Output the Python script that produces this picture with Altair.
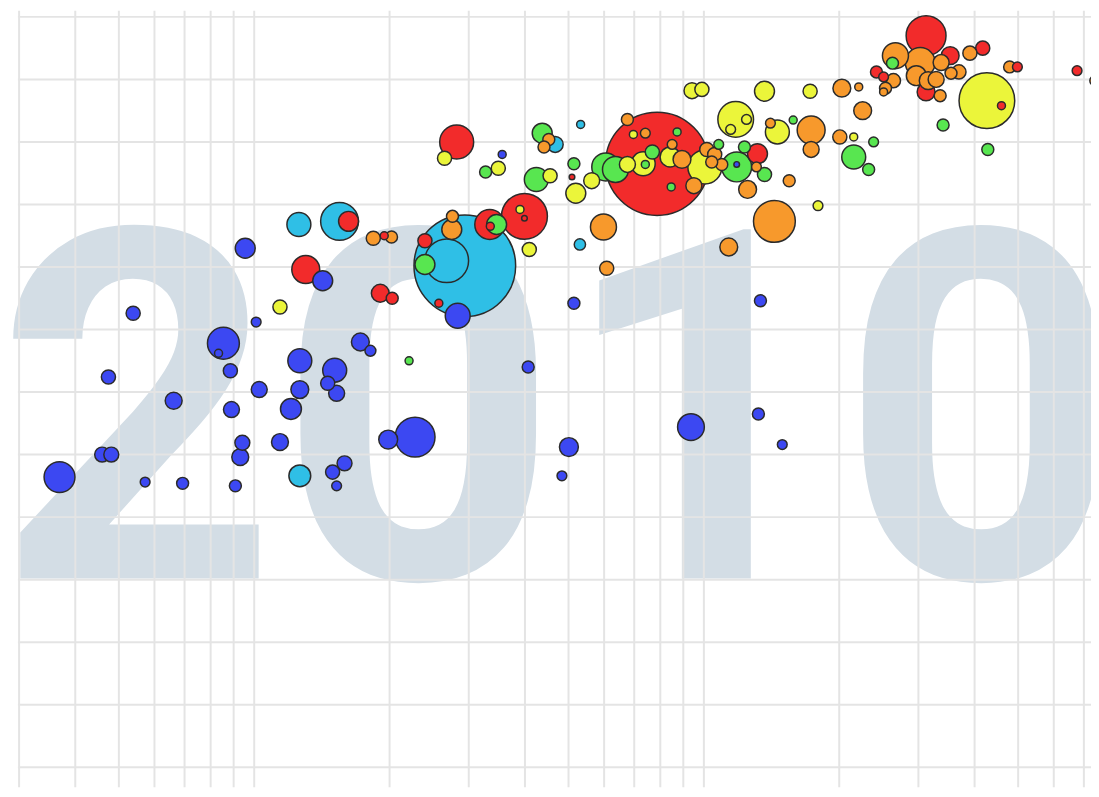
import altair as alt
import pandas as pd

# ---------------- data (GDP per capita, life expectancy, population in millions) ----------------
regions = ["Sub-Saharan Africa", "South Asia", "East Asia & Pacific",
           "America", "Middle East & North Africa", "Europe & Central Asia"]
region_colors = ["#3c48f2", "#2fbfe6", "#f22b2b", "#ebf53a", "#58e650", "#f7992c"]

blue_income = [369, 459, 481, 572, 693, 908, 931, 941, 1141, 890, 662, 1207, 1263, 1026, 955,
               1420, 538, 1010, 854, 833, 474, 885, 1263, 1510, 1457, 1525, 1722, 1813, 2835,
               4067, 1986, 2279, 1494, 1588, 1525, 5010, 4834, 9360, 13220, 14940, 5140, 13360,
               11830, 3560]
blue_life = [48.2, 50.0, 50.0, 47.8, 47.7, 47.5, 49.8, 50.95, 51.0, 53.6, 54.3, 53.65, 55.2,
             55.2, 66.5, 63.9, 61.3, 60.6, 58.9, 58.1, 56.2, 56.7, 57.5, 56.75, 55.7, 54.9, 59.0,
             58.3, 61.1, 57.0, 51.2, 51.4, 48.6, 49.3, 47.5, 50.6, 48.3, 52.2, 53.25, 50.8, 62.1,
             62.3, 73.2, 74.0]
blue_pop = [120, 28, 28, 12, 18, 18, 36, 28, 36, 32, 36, 55, 40, 32, 50, 50, 25, 12, 128, 8,
            25, 25, 72, 72, 25, 32, 40, 15, 78, 18, 45, 200, 25, 28, 12, 45, 12, 90, 18, 12,
            18, 18, 4, 8]

cyan_income = [2940, 2680, 1257, 1548, 1263, 5320, 5300, 4670]
cyan_life = [65.1, 65.5, 68.4, 68.65, 48.3, 76.4, 66.8, 74.8]
cyan_pop = [1300, 240, 72, 180, 60, 8, 16, 32]

red_income = [7870, 2820, 1302, 1621, 1946, 1907, 2027, 2397, 2574, 3340, 3350, 3990, 3990,
              5090, 13160, 31200, 35300, 41700, 49800, 67600, 24200, 25100, 31200, 45900]
red_life = [73.25, 75.0, 64.8, 68.65, 67.5, 62.9, 62.5, 67.1, 62.1, 68.4, 68.25, 69.05, 68.9,
            72.2, 74.05, 83.5, 81.9, 82.5, 81.0, 80.7, 80.6, 80.2, 79.0, 77.9]
red_pop = [1340, 145, 98, 50, 8, 40, 18, 25, 8, 112, 8, 265, 4, 4, 50, 200, 40, 25, 12, 12,
           18, 12, 40, 8]

yellow_income = [42600, 2650, 3490, 1141, 4090, 3900, 5190, 5630, 4550, 9410, 9900, 11770,
                 11470, 12440, 13640, 17230, 14570, 10050, 7330, 6760, 8410, 17940, 21540, 6970]
yellow_life = [78.3, 73.7, 72.9, 61.8, 66.4, 69.6, 70.9, 71.9, 72.3, 79.1, 79.2, 76.8, 76.0,
               76.8, 79.05, 79.05, 75.8, 73.0, 73.25, 73.2, 73.8, 69.9, 75.4, 75.6]
yellow_pop = [390, 25, 25, 25, 25, 8, 50, 32, 25, 32, 25, 160, 12, 12, 50, 25, 72, 145, 72,
              32, 50, 12, 8, 8]

green_income = [2210, 2397, 3270, 3460, 4370, 4240, 5140, 6050, 6360, 7680, 11830, 13640,
                12310, 21540, 23250, 23850, 34040, 42800, 26270, 15800, 8720, 8460, 7410, 10790]
green_life = [57.5, 65.2, 72.6, 68.4, 75.7, 72.0, 73.25, 73.0, 72.8, 74.2, 73.0, 72.4, 74.6,
              73.8, 72.8, 75.0, 76.35, 74.4, 81.3, 76.75, 75.8, 71.4, 73.2, 74.8]
green_pop = [8, 50, 18, 50, 50, 72, 18, 98, 85, 25, 112, 25, 18, 72, 18, 12, 18, 18, 18, 8,
             8, 8, 8, 12]

orange_income = [2750, 2760, 1840, 2020, 5980, 6080, 11360, 14350, 12510, 15480, 20060, 17320,
                 17320, 14060, 20270, 22100, 22550, 6760, 9500, 7410, 8500, 8940, 10150, 10570,
                 10960, 10410, 13090, 4520, 4410, 30280, 26670, 33700, 39050, 35450, 36920,
                 31540, 32850, 33530, 26400, 25350, 25100, 47860, 29680, 74000]
orange_life = [68.0, 69.05, 67.3, 67.4, 68.2, 64.9, 66.6, 68.65, 71.2, 71.9, 75.4, 75.95, 74.4,
               76.5, 79.3, 79.4, 77.5, 76.8, 71.5, 75.7, 74.8, 73.6, 74.4, 74.0, 73.2, 73.4,
               73.0, 75.2, 74.6, 81.35, 81.9, 81.35, 82.1, 80.5, 80.6, 79.9, 80.0, 78.7, 79.9,
               79.3, 79.0, 81.0, 80.3, 79.9]
orange_pop = [50, 18, 25, 18, 85, 25, 40, 220, 40, 18, 25, 98, 32, 12, 40, 8, 40, 18, 32, 12,
              12, 40, 25, 25, 18, 18, 12, 18, 18, 112, 85, 32, 25, 18, 25, 40, 32, 18, 25, 18,
              8, 18, 50, 12]

x_grid_ticks = [300, 400, 500, 600, 700, 800, 900, 1000, 2000, 3000, 4000, 5000, 6000, 7000,
                8000, 9000, 10000, 20000, 30000, 40000, 50000, 60000, 70000]
y_grid_ticks = [25, 30, 35, 40, 45, 50, 55, 60, 65, 70, 75, 80, 85]

year_label = ["2010"]
year_label_income = [4760]
year_label_life = [40.1]

# ---------------- tables ----------------
series = [
    (regions[0], blue_income, blue_life, blue_pop),
    (regions[1], cyan_income, cyan_life, cyan_pop),
    (regions[2], red_income, red_life, red_pop),
    (regions[3], yellow_income, yellow_life, yellow_pop),
    (regions[4], green_income, green_life, green_pop),
    (regions[5], orange_income, orange_life, orange_pop),
]
rows = []
for reg, inc, life, pop in series:
    for a, b, c in zip(inc, life, pop):
        rows.append({"region": reg, "income": a, "life": b, "pop": c})
df = pd.DataFrame(rows)

label_df = pd.DataFrame({"label": year_label, "income": year_label_income,
                         "life": year_label_life})
xg_df = pd.DataFrame({"income": x_grid_ticks})
yg_df = pd.DataFrame({"life": y_grid_ticks})

x_scale = alt.Scale(type="log", domain=[298.2, 72600], nice=False)
y_scale = alt.Scale(domain=[23.41, 85.48], nice=False, zero=False)

grid_color = "#e4e4e4"

year_text = alt.Chart(label_df).mark_text(
    font="Roboto", fontWeight="bold", fontSize=494, color="#d3dde5",
    align="center", baseline="alphabetic"
).encode(
    x=alt.X("income:Q", scale=x_scale, axis=None),
    y=alt.Y("life:Q", scale=y_scale, axis=None),
    text="label:N",
)

vgrid = alt.Chart(xg_df).mark_rule(color=grid_color, strokeWidth=2).encode(
    x=alt.X("income:Q", scale=x_scale, axis=None)
)
hgrid = alt.Chart(yg_df).mark_rule(color=grid_color, strokeWidth=2).encode(
    y=alt.Y("life:Q", scale=y_scale, axis=None)
)

bubbles = alt.Chart(df).mark_circle(
    stroke="#2b2b2b", strokeWidth=1.5, opacity=1, fillOpacity=1
).encode(
    x=alt.X("income:Q", scale=x_scale, axis=None),
    y=alt.Y("life:Q", scale=y_scale, axis=None),
    size=alt.Size("pop:Q", scale=alt.Scale(domain=[0, 1340], range=[0, 10816]), legend=None),
    color=alt.Color("region:N", scale=alt.Scale(domain=regions, range=region_colors),
                    legend=None),
    order=alt.Order("pop:Q", sort="descending"),
)

chart = alt.layer(year_text, vgrid, hgrid, bubbles).properties(
    width=1081, height=782,
    padding={"left": 10, "top": 0, "right": 0, "bottom": 0},
    autosize="none",
    background="white",
).configure_view(stroke=None)

chart.save("out.html", embed_options={"renderer": "svg", "actions": False})
